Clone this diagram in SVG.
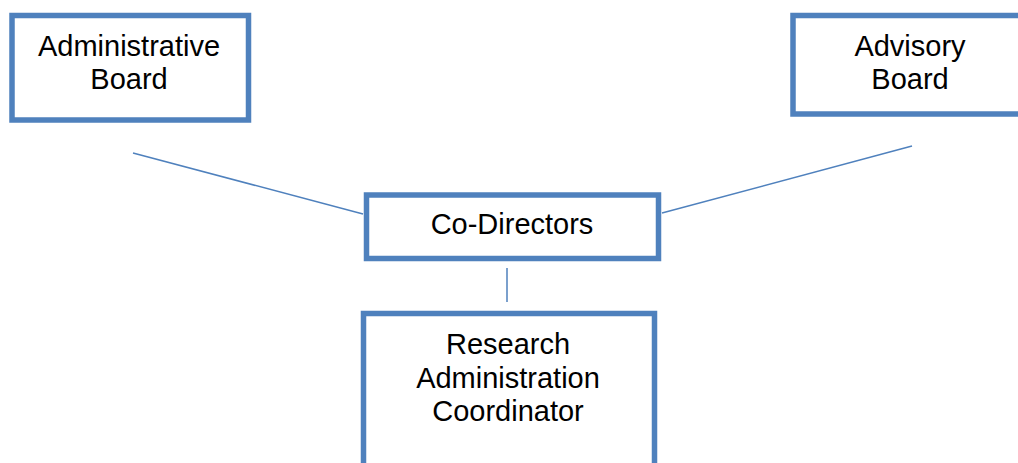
<svg xmlns="http://www.w3.org/2000/svg" width="1018" height="463" viewBox="0 0 1018 463">
<style>
.box{fill:#fff;stroke:#4F81BD;stroke-width:5.5}
.conn{stroke:#4F81BD;stroke-width:1.5;fill:none}
text{font-family:"Liberation Sans",Arial,sans-serif;font-size:29px;fill:#000;text-anchor:middle}
</style>
<rect width="1018" height="463" fill="#fff"/>
<g id="connectors">
<line class="conn" x1="133" y1="153" x2="363" y2="214"/>
<line class="conn" x1="662" y1="213" x2="912" y2="146"/>
<line class="conn" x1="507" y1="268" x2="507" y2="302"/>
</g>
<g id="admin-board">
<rect class="box" x="12" y="15.5" width="236.5" height="104.5"/>
<text x="129" y="56">Administrative</text>
<text x="129" y="89">Board</text>
</g>
<g id="advisory-board">
<rect class="box" x="793" y="15.5" width="236" height="98.5"/>
<text x="910" y="56">Advisory</text>
<text x="910" y="89">Board</text>
</g>
<g id="co-directors">
<rect class="box" x="366.5" y="195" width="292" height="63.5"/>
<text x="512" y="234">Co-Directors</text>
</g>
<g id="research-admin">
<rect class="box" x="363.5" y="313.5" width="291" height="170"/>
<text x="508" y="354">Research</text>
<text x="508" y="388">Administration</text>
<text x="508" y="421">Coordinator</text>
</g>
</svg>
